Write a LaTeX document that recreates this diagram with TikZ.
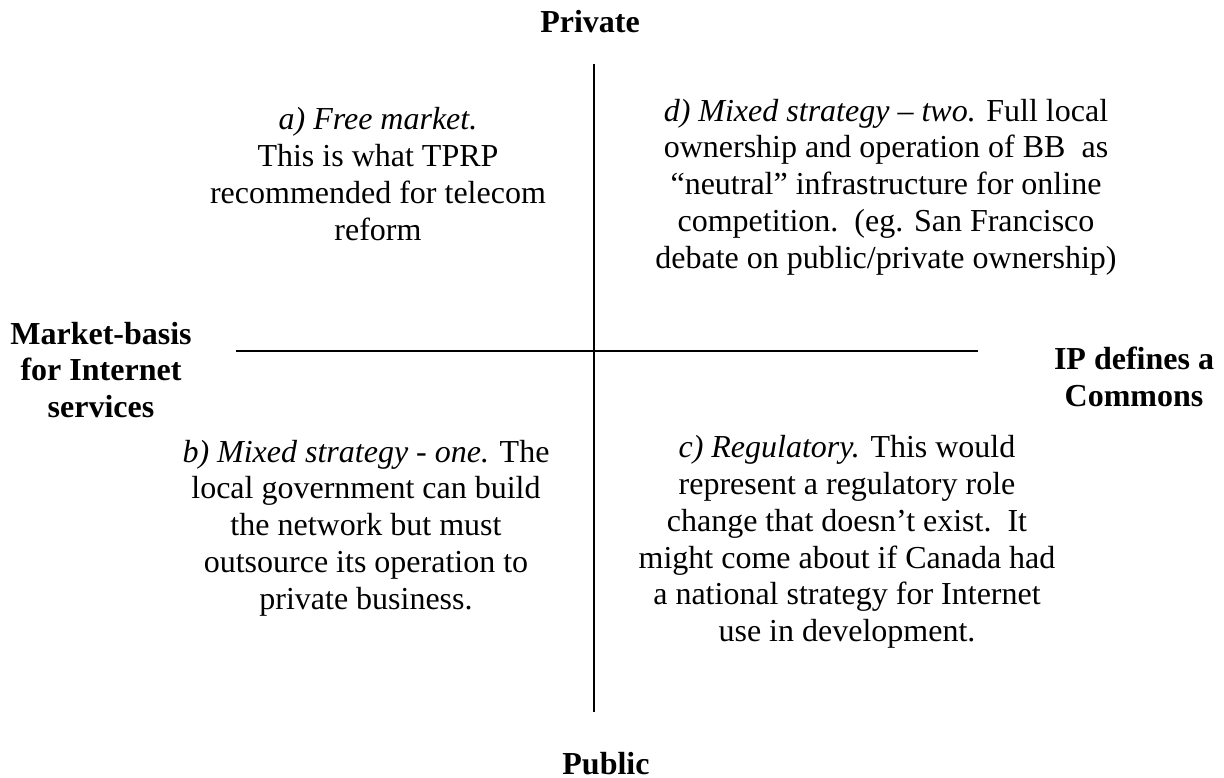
\documentclass[tikz,border=0pt]{standalone}
\usepackage{fontspec}
\setmainfont{Liberation Serif}
\begin{document}
\begin{tikzpicture}[x=0.375pt, y=-0.375pt,
  body/.style={align=center, inner sep=0pt, font=\fontsize{12}{13.8}\selectfont},
  axislabel/.style={align=center, inner sep=0pt, font=\fontsize{12}{13.8}\selectfont\bfseries},
  axis/.style={line width=0.75pt, black}]
\useasboundingbox (0,0) rectangle (1224,778);

% axis end points
\coordinate (top) at (594,64);
\coordinate (bottom) at (594,712);
\coordinate (left) at (236,351);
\coordinate (right) at (978,351);
\draw[axis] (top) -- (bottom);
\draw[axis] (left) -- (right);

% axis labels
\node[axislabel] (private) at (590,22) {Private};
\node[axislabel] (public) at (606,764) {Public};
\node[axislabel] (market) at (101,370) {Market-basis\\for Internet\\services};
\node[axislabel] (commons) at (1134,377) {IP defines a\\Commons};

% quadrant texts
\node[body] (qa) at (378,174) {\textit{a) Free market.}\\This is what TPRP\\recommended for telecom\\reform};
\node[body] (qd) at (886,187) {\textit{d) Mixed strategy – two.} Full local\\ownership and operation of BB\ \ as\\“neutral” infrastructure for online\\competition.\ \ (eg. San Francisco\\debate on public/private ownership)};
\node[body] (qb) at (366,528) {\textit{b) Mixed strategy - one.} The\\local government can build\\the network but must\\outsource its operation to\\private business.};
\node[body] (qc) at (847,542) {\textit{c) Regulatory.} This would\\represent a regulatory role\\change that doesn’t exist.\ \ It\\might come about if Canada had\\a national strategy for Internet\\use in development.};
\end{tikzpicture}
\end{document}
